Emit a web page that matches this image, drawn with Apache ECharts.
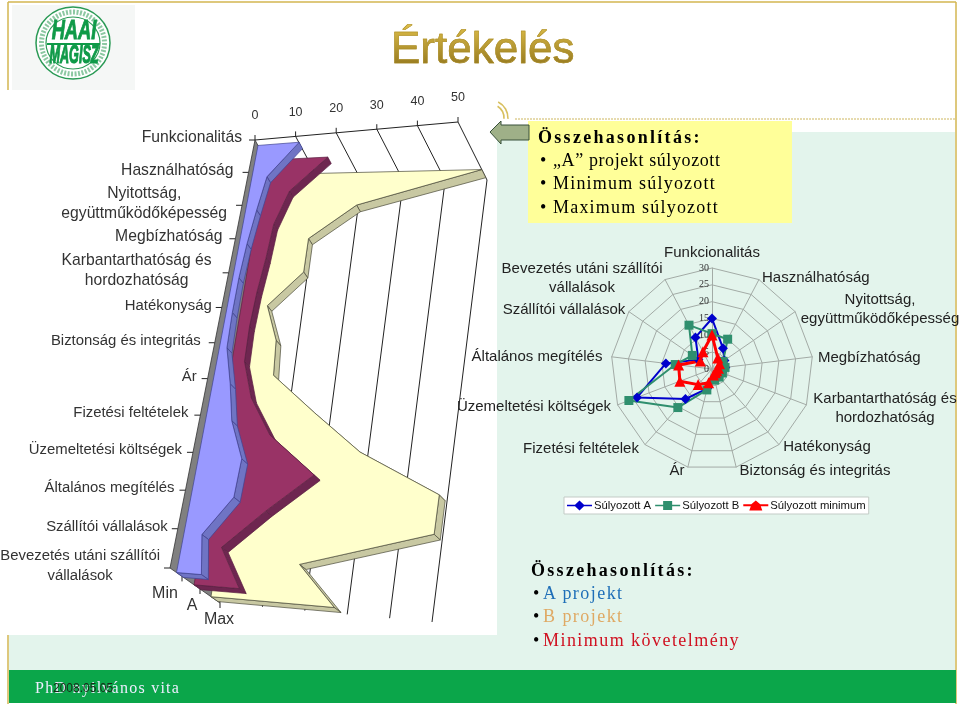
<!DOCTYPE html>
<html>
<head>
<meta charset="utf-8">
<title>Értékelés</title>
<script src="https://cdn.jsdelivr.net/npm/echarts@6/dist/echarts.min.js"></script>
<style>
    html, body { margin: 0; padding: 0; background: #fff; }
    #main { position: absolute; left: 0; top: 0; width: 960px; height: 707px; }
    .txt { position: absolute; font-family: "Liberation Serif", serif; font-size: 18px; line-height: 23.2px; color: #000; letter-spacing: 1.2px; white-space: nowrap; }
    .txt b { letter-spacing: 2.3px; }
    .txt i { font-style: normal; display: inline-block; width: 13px; letter-spacing: 0; }
    #title { position: absolute; left: 391px; top: 23px; font: 44px/50px "Liberation Sans", sans-serif; white-space: nowrap;
        color: transparent; background: linear-gradient(#e0c04a, #8a6e18); -webkit-background-clip: text; background-clip: text; -webkit-text-stroke: 0.5px #a88a24; }
</style>
</head>
<body>
<div id="main"></div>
<div id="title">Értékelés</div>
<div class="txt" style="left:538px;top:126px;">
    <b>Összehasonlítás:</b><br>
    <i style="margin-left:2px;">•</i><span style="letter-spacing:0.6px;">„A” projekt súlyozott</span><br>
    <i style="margin-left:2px;">•</i>Minimum súlyozott<br>
    <i style="margin-left:2px;">•</i>Maximum súlyozott
</div>
<div class="txt" style="left:531px;top:559px;letter-spacing:1.45px;">
    <b>Összehasonlítás:</b><br>
    <i style="margin-left:2px;width:10px;">•</i><span style="color:#1f6fb8;">A projekt</span><br>
    <i style="margin-left:2px;width:10px;">•</i><span style="color:#dfa964;">B projekt</span><br>
    <i style="margin-left:2px;width:10px;">•</i><span style="color:#d01020;">Minimum követelmény</span>
</div>
<div class="txt" style="left:35px;top:676px;color:#eef;font-size:16px;letter-spacing:1.25px;">PhD nyilvános vita</div>
<div class="txt" style="left:53px;top:677px;color:#1a2a1a;font:12px 'Liberation Sans',sans-serif;line-height:22px;letter-spacing:0;">2008.05.05</div>

<script>
    // kategoriak (mindket diagram ugyanazt hasznalja)
    const categories = ['Funkcionalitás', 'Használhatóság', 'Nyitottság,\negyüttműködőképesség', 'Megbízhatóság',
        'Karbantarthatóság és\nhordozhatóság', 'Hatékonyság', 'Biztonság és integritás', 'Ár', 'Fizetési feltételek',
        'Üzemeltetési költségek', 'Általános megítélés', 'Szállítói vállalások', 'Bevezetés utáni szállítói\nvállalások'];

    // radar
    const radarTicks = [0, 5, 10, 15, 20, 25, 30];
    const weightedA = [15, 7, 4.5, 4, 3.2, 2.8, 3, 6, 11.9, 23.8, 13.8, 4.9, 10.6];
    const weightedB = [10.5, 10, 4, 3.9, 3.3, 3.2, 3.4, 6.4, 15.3, 26.4, 11, 7.1, 14.7];
    const weightedMin = [10.1, 3.7, 2.7, 1.9, 1.5, 1.5, 1.8, 4.2, 6.2, 10.2, 10, 4.2, 5.8];

    // 3D terulet diagram
    const wallTicks = [0, 10, 20, 30, 40, 50];
    const depthNames = ['Min', 'A', 'Max'];
    const areaMin = [10.1, 3.7, 2.7, 1.9, 1.5, 1.5, 1.8, 4.2, 6.2, 10.2, 10, 4.2, 5.8];
    const areaA = [15, 7, 4.5, 4, 3.2, 2.8, 3, 6, 11.9, 23.8, 13.8, 4.9, 10.6];
    const areaMax = [50, 21, 10.6, 10.6, 3.1, 6.4, 7, 18, 30, 50, 50, 19.5, 29];

    // elhelyezes: a 3D doboz 8 sarka [ertek][kategoria][melyseg]
    const corners = {
        '000': [255, 140], '100': [458, 122], '001': [278, 182], '101': [487, 180],
        '010': [170, 568], '110': [385, 585], '011': [220, 603], '111': [432, 622]
    };
    const GW = 500, GH = 600;
    const labelGap = [13, 15, 15, 13, 17, 10, 14, 11, 12, 11, 11, 10, 10];
    const labelSize = [15.7, 15.7, 15.7, 15.7, 15.7, 14.9, 14.9, 14.9, 14.9, 14.9, 14.9, 14.9, 14.9];
    const depthLabelShift = [-17, -8, -1];

    // radar feliratok helye
    const radarNamePos = [
        [712, 253, 'center'], [762, 278, 'left'], [880, 309, 'center'], [818, 358, 'left'], [885, 408, 'center'],
        [827, 447, 'center'], [815, 471, 'center'], [677, 471, 'center'], [581, 449, 'center'], [534, 407, 'center'],
        [537, 357, 'center'], [564, 310, 'center'], [582, 278, 'center']
    ];

    // az echarts radar az ora jarasaval ellentetesen rajzol, ezert forditott sorrend
    function radarOrder(list) {
        return [list[0]].concat(list.slice(1).reverse());
    }

    // grid pixel -> 3D doboz (kicsit perspektivikus a kategoria tengely)
    function warp(p, d) {
        const u = p[0] / GW;
        const r = p[1] / GH;
        const s = 0.9 * r / (1 - 0.1 * r);
        const out = [0, 0];
        for (let c = 0; c < 2; c++) {
            const a = corners['000'][c] * (1 - u) + corners['100'][c] * u;
            const b = corners['010'][c] * (1 - u) + corners['110'][c] * u;
            const e = corners['001'][c] * (1 - u) + corners['101'][c] * u;
            const f = corners['011'][c] * (1 - u) + corners['111'][c] * u;
            const back = a * (1 - s) + b * s;
            const front = e * (1 - s) + f * s;
            out[c] = back * (1 - d) + front * d;
        }
        return out;
    }

    const measure = document.createElement('canvas').getContext('2d');

    function textWidth(str, font) {
        measure.font = font;
        return Math.max.apply(null, str.split('\n').map(function (t) { return measure.measureText(t).width; }));
    }

    function line(a, b, color, width) {
        return { type: 'line', shape: { x1: a[0], y1: a[1], x2: b[0], y2: b[1] }, style: { stroke: color, lineWidth: width || 1 } };
    }

    function poly(points, fill, stroke, width) {
        return { type: 'polygon', shape: { points: points }, style: { fill: fill, stroke: stroke, lineWidth: width || 0.7 } };
    }

    // fal, racsvonalak, tengelyfeliratok
    function renderFrame(params, api) {
        if (params.dataIndex !== 0) return null;
        const kids = [];
        const last = categories.length - 1;
        const P = function (v, t, d) { return warp(api.coord([v, t]), d); };

        wallTicks.forEach(function (v) {
            if (v > 0) {
                kids.push(line(P(v, 0, 0), P(v, 0, 1), '#222'));
                kids.push(line(P(v, 0, 1), P(v, last, 1), '#222'));
            }
            const top = P(v, 0, 0);
            kids.push(line(top, [top[0], top[1] - 5], '#222'));
            kids.push({ type: 'text', style: { text: String(v), x: top[0], y: top[1] - 24, fill: '#333',
                fontSize: 12.5, fontFamily: 'Liberation Sans', align: 'center', verticalAlign: 'middle' } });
        });
        kids.push(line(P(0, 0, 0), P(50, 0, 0), '#222'));

        // szurke fal
        const wall = [];
        for (let i = 0; i <= last; i++) wall.push(P(0, i, 0));
        for (let i = last; i >= 0; i--) wall.push(P(0, i, 1));
        kids.push(poly(wall, '#808080', '#333', 0.8));

        categories.forEach(function (name, i) {
            const p = P(0, i, 0);
            kids.push(line(p, [p[0] - 6, p[1]], '#222'));
            const w = textWidth(name, labelSize[i] + 'px "Liberation Sans"');
            kids.push({ type: 'text', style: { text: name, x: p[0] - labelGap[i] - w / 2, y: p[1] - 2, fill: '#333',
                fontSize: labelSize[i], fontFamily: 'Liberation Sans', lineHeight: 20, align: 'center', verticalAlign: 'middle' } });
        });

        depthNames.forEach(function (name, i) {
            const d = [0.24, 0.6, 1][i];
            const p = P(0, last, d);
            kids.push(line(p, [p[0], p[1] + 5], '#222'));
            kids.push({ type: 'text', style: { text: name, x: p[0] + depthLabelShift[i], y: p[1] + 17, fill: '#333',
                fontSize: 16, fontFamily: 'Liberation Sans', align: 'center', verticalAlign: 'middle' } });
        });
        return { type: 'group', children: kids };
    }

    // egy szalag: felso sav + elolap
    function ribbon(values, d1, d2, face, band, edge) {
        return function (params, api) {
            if (params.dataIndex !== 0) return null;
            const kids = [];
            const last = values.length - 1;
            const P = function (v, t, d) { return warp(api.coord([v, t]), d); };
            for (let i = 0; i < last; i++) {
                kids.push(poly([P(values[i], i, d1), P(values[i + 1], i + 1, d1), P(values[i + 1], i + 1, d2), P(values[i], i, d2)], band, edge));
            }
            kids.push(poly([P(0, last, d1), P(values[last], last, d1), P(values[last], last, d2), P(0, last, d2)], band, edge));
            const pts = [P(0, 0, d1)];
            values.forEach(function (v, i) { pts.push(P(v, i, d1)); });
            pts.push(P(0, last, d1));
            kids.push(poly(pts, face, edge));
            return { type: 'group', children: kids };
        };
    }

    function seriesData(values) {
        return values.map(function (v, i) { return [v, i]; });
    }

    function customSeries(name, values, render) {
        return { name: name, type: 'custom', coordinateSystem: 'cartesian2d', silent: true, clip: false, animation: false,
            encode: { x: 0, y: 1 }, data: seriesData(values), renderItem: render };
    }

    const sansLabel = { fontFamily: 'Liberation Sans', fontSize: 15, fill: '#222' };

    function logoText(str, y, size, sx, sy) {
        return { type: 'text', z: -16, x: 74, y: y, scaleX: sx, scaleY: sy,
            style: { text: str, x: 0, y: 0, fill: '#0f9a48', stroke: '#0f9a48', lineWidth: 0.7, fontSize: size, fontWeight: 'bold', fontStyle: 'italic',
                fontFamily: 'Liberation Sans', align: 'center', verticalAlign: 'middle' } };
    }

    const backdrop = [
        { type: 'rect', z: -20, shape: { x: 9, y: 132, width: 946, height: 571 }, style: { fill: '#e3f4ec' } },
        { type: 'line', z: -20, shape: { x1: 8, y1: 2, x2: 956, y2: 2 }, style: { stroke: '#d3b650', lineWidth: 1.5 } },
        { type: 'line', z: -20, shape: { x1: 8, y1: 2, x2: 8, y2: 704 }, style: { stroke: '#d3b650', lineWidth: 1.5 } },
        { type: 'line', z: -20, shape: { x1: 956, y1: 2, x2: 956, y2: 704 }, style: { stroke: '#d3b650', lineWidth: 1.5 } },
        { type: 'line', z: -20, shape: { x1: 515, y1: 119, x2: 955, y2: 119 }, style: { stroke: '#cdb65e', lineWidth: 1, lineDash: [2, 1] } },
        { type: 'rect', z: -19, shape: { x: 0, y: 90, width: 497, height: 545 }, style: { fill: '#fff' } },
        { type: 'rect', z: -18, shape: { x: 528, y: 121, width: 264, height: 102 }, style: { fill: '#ffff99' } },
        { type: 'rect', z: -18, shape: { x: 9, y: 670, width: 947, height: 33 }, style: { fill: '#0ba64a' } },
        // logo
        { type: 'rect', z: -18, shape: { x: 12, y: 5, width: 123, height: 85 }, style: { fill: '#f5f7f6' } },
        { type: 'ellipse', z: -17, shape: { cx: 73, cy: 43, rx: 37, ry: 36 }, style: { fill: '#fff', stroke: '#2a9a55', lineWidth: 1.5 } },
        { type: 'ellipse', z: -17, shape: { cx: 73, cy: 43, rx: 31.5, ry: 31 }, style: { fill: 'none', stroke: '#8cc8a2', lineWidth: 5, lineDash: [2, 1.5] } },
        { type: 'ellipse', z: -17, shape: { cx: 73, cy: 43, rx: 27, ry: 26 }, style: { fill: '#fff', stroke: '#2a9a55', lineWidth: 1.2 } },
        { type: 'rect', z: -16, shape: { x: 47, y: 43, width: 53, height: 2 }, style: { fill: '#0f9a48' } },
        logoText('HAAI', 31, 21, 0.87, 1.3),
        logoText('MAGISZ', 56, 15, 0.84, 1.75),
        // nyil es ivek
        { type: 'polygon', z: 50, shape: { points: [[490, 132], [501, 121], [501, 125], [529, 125], [529, 140], [501, 140], [501, 144]] }, style: { fill: '#9fb088', stroke: '#38503a', lineWidth: 1 } },
        { type: 'arc', z: 50, shape: { cx: 490, cy: 118, r: 18, startAngle: -1.1, endAngle: 0.05 }, style: { stroke: '#d8c060', lineWidth: 1.6, fill: 'none' } },
        { type: 'arc', z: 50, shape: { cx: 490, cy: 118, r: 14, startAngle: -1.0, endAngle: 0.05 }, style: { stroke: '#d8c060', lineWidth: 1.6, fill: 'none' } }
    ];

    const radarNames = categories.map(function (name, i) {
        const pos = radarNamePos[i];
        return { type: 'text', z: 60, style: Object.assign({ text: name, x: pos[0], y: pos[1], align: pos[2], verticalAlign: 'middle', lineHeight: 19 }, sansLabel) };
    });

    const option = {
        animation: false,
        graphic: { elements: backdrop.concat(radarNames) },
        grid: { left: 0, top: 0, width: GW, height: GH, show: false },
        xAxis: { type: 'value', min: 0, max: 50, interval: 10, show: false },
        yAxis: { type: 'category', data: categories, boundaryGap: false, inverse: true, show: false },
        radar: {
            center: [712, 369],
            radius: 101,
            startAngle: 90,
            splitNumber: radarTicks.length - 1,
            indicator: radarOrder(categories).map(function (name, i) {
                return { name: name, min: 0, max: radarTicks[radarTicks.length - 1],
                    axisLabel: { show: i === 0, color: '#333', fontSize: 10, fontFamily: 'Liberation Serif', margin: 3 } };
            }),
            axisName: { show: false },
            axisLine: { lineStyle: { color: '#a3aba6', width: 1 } },
            axisTick: { show: false },
            splitArea: { show: false },
            splitLine: { lineStyle: { color: '#a3aba6', width: 1 } }
        },
        legend: {
            left: 564, top: 497, orient: 'horizontal', itemGap: 4, itemWidth: 25, itemHeight: 10, padding: [3, 3, 3, 3],
            backgroundColor: '#fff', borderColor: '#c3cbc6', borderWidth: 1, selectedMode: false,
            textStyle: { fontFamily: 'Liberation Sans', fontSize: 11.3, color: '#111', padding: [0, 0, 0, -3] },
            data: [
                { name: 'Súlyozott A', icon: 'path://M0 4.2H8L12.5 0L17 4.2H25V5.8H17L12.5 10L8 5.8H0Z' },
                { name: 'Súlyozott B', icon: 'path://M0 4.2H8V0.5H17V4.2H25V5.8H17V9.5H8V5.8H0Z' },
                { name: 'Súlyozott minimum', icon: 'path://M0 3.8H8L12.5 0L17 3.8H25V5.8H17.5L19 10H6L7.5 5.8H0Z' }
            ]
        },
        series: [
            customSeries('frame', wallTicks, renderFrame),
            customSeries('Max', areaMax, ribbon(areaMax, 0.82, 0.96, '#ffffcc', '#c8c8a2', '#4a4a3a')),
            customSeries('A', areaA, ribbon(areaA, 0.48, 0.62, '#993366', '#6e2650', '#5a1f42')),
            customSeries('Min', areaMin, ribbon(areaMin, 0.13, 0.27, '#9999ff', '#6f74c4', '#3f4490')),
            {
                type: 'radar',
                z: 10,
                silent: true,
                data: [
                    { name: 'Súlyozott A', value: radarOrder(weightedA), symbol: 'diamond', symbolSize: 10,
                        itemStyle: { color: '#0000cc' }, lineStyle: { color: '#0000cc', width: 2 } },
                    { name: 'Súlyozott B', value: radarOrder(weightedB), symbol: 'rect', symbolSize: 9,
                        itemStyle: { color: '#2f8f6e' }, lineStyle: { color: '#2f8f6e', width: 2 } },
                    { name: 'Súlyozott minimum', value: radarOrder(weightedMin), symbol: 'triangle', symbolSize: 11,
                        itemStyle: { color: '#ff0000' }, lineStyle: { color: '#ff0000', width: 3 } }
                ]
            }
        ]
    };

    const myChart = echarts.init(document.getElementById('main'));
    myChart.setOption(option);
</script>
</body>
</html>
